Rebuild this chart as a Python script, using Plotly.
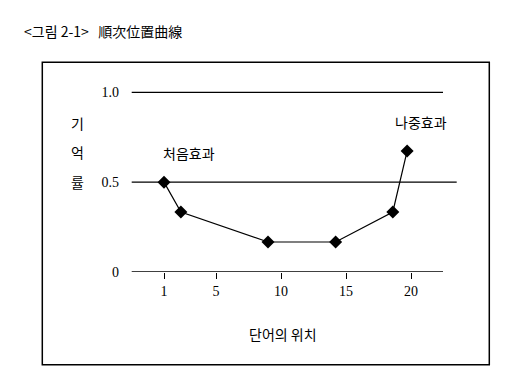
import plotly.graph_objects as go

# ---- data ----
word_position = [1, 2.3, 9.0, 14.2, 18.6, 19.7]
recall_rate = [0.50, 0.334, 0.167, 0.167, 0.334, 0.673]
x_tick_values = [1, 5, 10, 15, 20]
x_tick_labels = ["1", "5", "10", "15", "20"]
y_tick_values = [0, 0.5, 1.0]
y_tick_labels = ["0", "0.5", "1.0"]
y_title_chars = ["기", "억", "률"]
y_title_levels = [0.83, 0.667, 0.5]
notes = ["처음효과", "나중효과"]
note_x = [2.9, 20.8]
note_y = [0.665, 0.836]

OFF = 8  # page body margin
W, H = 528 - OFF, 392 - OFF
# plot area in page pixels
L, R, T, B = 120, 470, 80, 271.7

def px(x):
    return (x - L) / (R - L)

def py(y):
    return (B - y) / (B - T)

UX = 13.0     # pixels per word position
UY = 179.4    # pixels per unit recall
X_RANGE = [1 - (164 - L) / UX, 1 + (R - 164) / UX]
Y_RANGE = [0, (B - T) / UY]

SERIF = "Liberation Serif, Noto Sans CJK KR, serif"
KR = "Noto Sans CJK KR, sans-serif"

fig = go.Figure()
fig.add_trace(go.Scatter(
    x=word_position, y=recall_rate, mode="lines+markers",
    line=dict(color="black", width=1.2),
    marker=dict(symbol="diamond", size=10, color="black"),
    cliponaxis=False, showlegend=False,
))

x_left = X_RANGE[0] + (131.7 - L) / UX
x_right_short = X_RANGE[0] + (443 - L) / UX
x_right_long = X_RANGE[0] + (456.7 - L) / UX
shapes = []
for yv, xr in zip(y_tick_values, [x_right_short, x_right_long, x_right_short]):
    shapes.append(dict(type="line", xref="x", yref="y", x0=x_left, x1=xr,
                       y0=yv, y1=yv, line=dict(color="black", width=1.3)))
# outer frame
shapes.append(dict(type="rect", xref="paper", yref="paper",
                   x0=px(42.3), x1=px(489.3), y0=py(364.3), y1=py(62.3),
                   line=dict(color="black", width=1.5)))

annotations = []
annotations.append(dict(text="&lt;그림 2-1&gt;   順次位置曲線", xref="paper", yref="paper",
                        x=px(22), y=py(31), xanchor="left", yanchor="middle",
                        showarrow=False, font=dict(family=KR, size=14, color="black")))
for ch, lv in zip(y_title_chars, y_title_levels):
    annotations.append(dict(text=ch, xref="paper", yref="y", x=px(77), y=lv,
                            xanchor="center", yanchor="middle", showarrow=False,
                            font=dict(family=KR, size=14, color="black")))
for t, xv, yv in zip(notes, note_x, note_y):
    annotations.append(dict(text=t, xref="x", yref="y", x=xv, y=yv,
                            xanchor="center", yanchor="middle", showarrow=False,
                            font=dict(family=KR, size=14, color="black")))
annotations.append(dict(text="단어의 위치", xref="paper", yref="paper",
                        x=px(283), y=py(334), xanchor="center", yanchor="middle",
                        showarrow=False, font=dict(family=KR, size=14, color="black")))

fig.update_layout(
    width=W, height=H,
    margin=dict(l=L - OFF, r=W - (R - OFF), t=T - OFF, b=H - (B - OFF), pad=0),
    paper_bgcolor="white", plot_bgcolor="white",
    xaxis=dict(range=X_RANGE, tickvals=x_tick_values, ticktext=x_tick_labels,
               showgrid=False, zeroline=False, showline=False,
               ticks="outside", ticklen=6, tickcolor="black", tickwidth=1,
               tickfont=dict(family=SERIF, size=14, color="black")),
    yaxis=dict(range=Y_RANGE, tickvals=y_tick_values, ticktext=y_tick_labels,
               showgrid=False, zeroline=False, showline=False, ticks="",
               ticklabelstandoff=0,
               tickfont=dict(family=SERIF, size=14, color="black")),
    shapes=shapes, annotations=annotations,
)

fig.write_html("out.html")
